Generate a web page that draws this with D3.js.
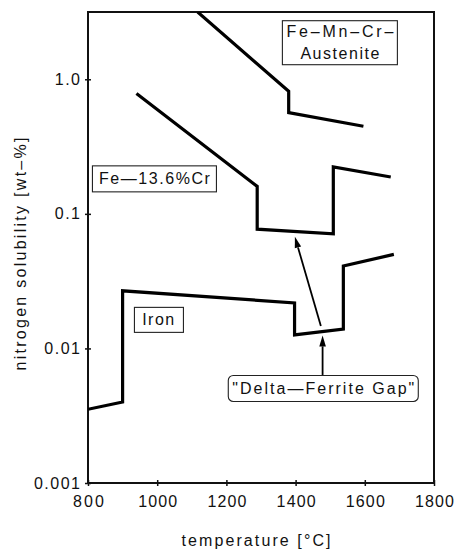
<!DOCTYPE html>
<html>
<head>
<meta charset="utf-8">
<script src="https://cdn.jsdelivr.net/npm/d3@7"></script>
<style>
  html, body { margin: 0; padding: 0; background: #fff; }
  svg { display: block; }
  text { font-family: "Liberation Sans", Arial, sans-serif; fill: #111; }
</style>
</head>
<body>
<script>
// ---- data (temperature in °C, nitrogen solubility in wt-%) ----
const austeniteT = [1117, 1380, 1380, 1596];
const austeniteN = [3.16, 0.815, 0.566, 0.448];

const crSteelT = [940, 1289, 1289, 1509, 1509, 1675];
const crSteelN = [0.783, 0.16, 0.077, 0.071, 0.223, 0.188];

const ironT = [800, 900, 900, 1397, 1397, 1538, 1538, 1684];
const ironN = [0.00353, 0.0040, 0.0268, 0.0218, 0.0126, 0.0139, 0.041, 0.050];

const xTicks = [800, 1000, 1200, 1400, 1600, 1800];
const yTicks = [0.001, 0.01, 0.1, 1.0];
const yTickLabels = ["0.001", "0.01", "0.1", "1.0"];

const labelTexts = [["Fe\u2013Mn\u2013Cr\u2013", "Austenite"], ["Fe\u201413.6%Cr"], ["Iron"], ["\"Delta\u2014Ferrite Gap\""]];
const labelT = [1528, 992, 1005, 1480];
const labelN = [1.87, 0.182, 0.0163, 0.00504];

const arrowFromT = [1478, 1473];
const arrowFromN = [0.00635, 0.0147];
const arrowToT = [1478, 1398];
const arrowToN = [0.0125, 0.0675];

// ---- layout / style ----
const W = 454, H = 551;
const plot = { left: 88, right: 434, top: 12, bottom: 483 };
const boxStyle = [
  { w: 115, h: 44, widths: [107, 79], rounded: 0 },
  { w: 124, h: 26, widths: [111], rounded: 0 },
  { w: 49, h: 25, widths: [null], rounded: 0 },
  { w: 190, h: 26, widths: [182], rounded: 5 }
];

const svg = d3.select("body").append("svg").attr("width", W).attr("height", H);

const x = d3.scaleLinear().domain([800, 1800]).range([plot.left, plot.right]);
const y = d3.scaleLog().domain([0.001, Math.pow(10, 0.5)]).range([plot.bottom, plot.top]);

svg.append("defs").append("clipPath").attr("id", "clip")
  .append("rect").attr("x", plot.left).attr("y", plot.top)
  .attr("width", plot.right - plot.left).attr("height", plot.bottom - plot.top);

// frame
svg.append("rect")
  .attr("x", plot.left).attr("y", plot.top)
  .attr("width", plot.right - plot.left).attr("height", plot.bottom - plot.top)
  .attr("fill", "none").attr("stroke", "#111").attr("stroke-width", 2);

// axes
const xAxis = d3.axisBottom(x).tickValues(xTicks).tickFormat(d3.format("d")).tickSizeInner(3).tickSizeOuter(0).tickPadding(9);
const gx = svg.append("g").attr("transform", `translate(0,${plot.bottom})`).call(xAxis);
gx.select(".domain").remove();
gx.selectAll(".tick line").attr("y1", -3).attr("y2", 3).attr("stroke", "#111").attr("stroke-width", 1.5);
gx.selectAll(".tick text").attr("font-size", 16)
  .attr("dy", null).attr("y", 24)
  .attr("textLength", d => String(d).length === 3 ? 31 : 39).attr("lengthAdjust", "spacing");

const yAxis = d3.axisLeft(y).tickValues(yTicks).tickFormat((d, i) => yTickLabels[i]).tickSizeInner(3).tickSizeOuter(0).tickPadding(5);
const gy = svg.append("g").attr("transform", `translate(${plot.left},0)`).call(yAxis);
gy.select(".domain").remove();
gy.selectAll(".tick line").attr("x1", -3).attr("x2", 3).attr("stroke", "#111").attr("stroke-width", 1.5);
gy.selectAll(".tick text").attr("font-size", 16).attr("letter-spacing", "1.5px").attr("x", -6.5);

// axis titles
svg.append("text").attr("x", 256).attr("y", 546).attr("text-anchor", "middle")
  .attr("font-size", 16)
  .attr("textLength", 149).attr("lengthAdjust", "spacing")
  .text("temperature [\u00B0C]");
svg.append("text").attr("transform", "translate(26,254) rotate(-90)").attr("text-anchor", "middle")
  .attr("font-size", 16)
  .attr("textLength", 233).attr("lengthAdjust", "spacing")
  .text("nitrogen solubility [wt\u2013%]");

// series
const line = d3.line().x(d => x(d[0])).y(d => y(d[1])).curve(d3.curveLinear);
const series = [
  d3.zip(austeniteT, austeniteN),
  d3.zip(crSteelT, crSteelN),
  d3.zip(ironT, ironN)
];
svg.append("g").attr("clip-path", "url(#clip)")
  .selectAll("path").data(series).join("path")
  .attr("d", line).attr("fill", "none").attr("stroke", "#000")
  .attr("stroke-width", 3.2).attr("stroke-linejoin", "miter").attr("stroke-linecap", "butt");

// arrows
const gA = svg.append("g");
arrowFromT.forEach((_, i) => {
  const x1 = x(arrowFromT[i]), y1 = y(arrowFromN[i]);
  const x2 = x(arrowToT[i]), y2 = y(arrowToN[i]);
  const ang = Math.atan2(y2 - y1, x2 - x1);
  const L = 11, hw = 3.3;
  const bx = x2 - L * Math.cos(ang), by = y2 - L * Math.sin(ang);
  gA.append("line").attr("x1", x1).attr("y1", y1).attr("x2", bx).attr("y2", by)
    .attr("stroke", "#000").attr("stroke-width", 1.8);
  const px = -Math.sin(ang) * hw, py = Math.cos(ang) * hw;
  gA.append("path")
    .attr("d", `M${x2},${y2}L${bx + px},${by + py}L${bx - px},${by - py}Z`)
    .attr("fill", "#000");
});

// labels with boxes
const gL = svg.append("g");
labelTexts.forEach((lines, i) => {
  const cx = x(labelT[i]), cy = y(labelN[i]);
  const st = boxStyle[i];
  gL.append("rect")
    .attr("x", cx - st.w / 2).attr("y", cy - st.h / 2)
    .attr("width", st.w).attr("height", st.h)
    .attr("rx", st.rounded).attr("ry", st.rounded)
    .attr("fill", "#fff").attr("stroke", "#222").attr("stroke-width", 1.1);
  const lh = 21.7;
  const n = lines.length;
  lines.forEach((t, j) => {
    const tt = gL.append("text")
      .attr("x", cx).attr("y", cy + (j - (n - 1) / 2) * lh + 5.5)
      .attr("text-anchor", "middle").attr("font-size", 16);
    tt.text(t);
    if (st.widths[j]) tt.attr("textLength", st.widths[j]).attr("lengthAdjust", "spacing");
    else tt.attr("letter-spacing", "1.5px");
  });
});
</script>
</body>
</html>
